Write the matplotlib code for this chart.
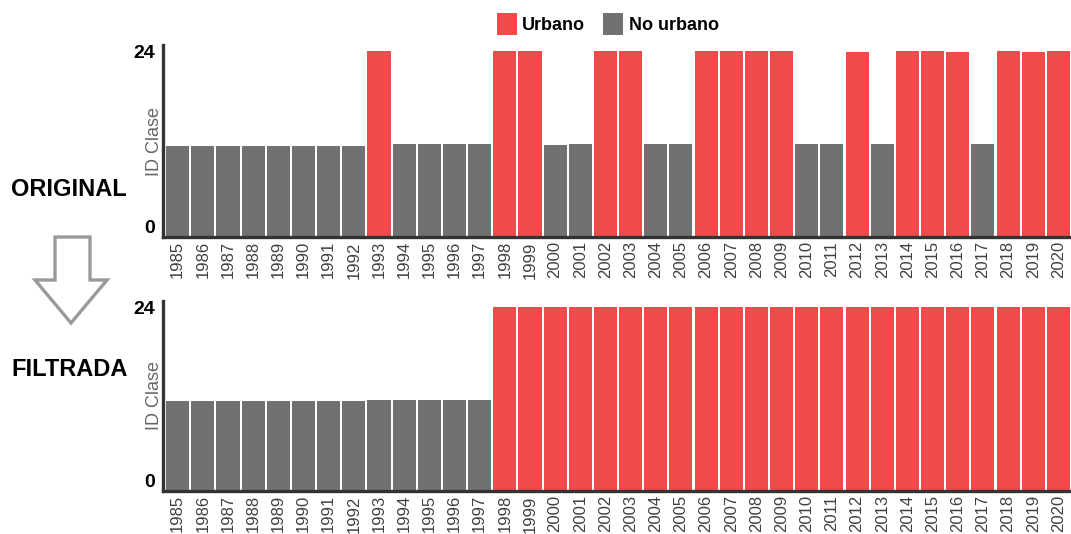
import matplotlib
matplotlib.use("Agg")
import matplotlib.pyplot as plt
from matplotlib.patches import Patch, Polygon

# ---------------- data ----------------
years = list(range(1985, 2021))
original_values = [11.7, 11.7, 11.7, 11.7, 11.7, 11.7, 11.7, 11.7,
                   24.0,
                   12.0, 12.0, 12.0, 12.0,
                   24.0, 24.0,
                   11.9, 12.0,
                   24.0, 24.0,
                   12.0, 12.0,
                   24.0, 24.0, 24.0, 24.0,
                   12.0, 12.0,
                   23.9,
                   12.0,
                   24.0, 24.0, 23.9,
                   12.0,
                   24.0, 23.9, 24.0]
original_classes = ["N"] * 8 + ["U"] + ["N"] * 4 + ["U"] * 2 + ["N"] * 2 + ["U"] * 2 + \
                   ["N"] * 2 + ["U"] * 4 + ["N"] * 2 + ["U"] + ["N"] + ["U"] * 3 + ["N"] + ["U"] * 3
filtered_values = [11.8] * 8 + [11.9] * 5 + [24.0] * 23
filtered_classes = ["N"] * 13 + ["U"] * 23
ytick_values = [0, 24]
panel_titles = ["ORIGINAL", "FILTRADA"]
legend_labels = ["Urbano", "No urbano"]
ylabel = "ID Clase"

# ---------------- style ----------------
RED = "#F24A4B"
GRAY = "#727071"
SPINE = "#333333"
colors = {"U": RED, "N": GRAY}
SANS = ["Liberation Sans", "DejaVu Sans"]

W, H = 1071, 534
fig = plt.figure(figsize=(W / 100, H / 100), dpi=100)


def fx(px):
    return px / W


def fy(py):
    return 1 - py / H


def make_panel(top_px, bottom_px, values, classes, ymax):
    ax = fig.add_axes([fx(163), fy(bottom_px), fx(1071) - fx(163), fy(top_px) - fy(bottom_px)])
    x = list(range(len(years)))
    ax.bar(x, values, width=0.92, color=[colors[c] for c in classes],
           edgecolor="none", zorder=2)
    ax.set_xlim(-0.58, len(years) - 0.5)
    ax.set_ylim(0, ymax)
    ax.set_xticks(x)
    ax.set_xticklabels([str(y) for y in years], rotation=90, fontsize=12,
                       color="#404040", family=SANS)
    ax.set_yticks(ytick_values)
    ax.set_yticklabels([str(v) for v in ytick_values], fontsize=14,
                       fontweight="bold", family=SANS, color="black")
    ax.get_yticklabels()[0].set_va("bottom")
    ax.tick_params(axis="both", length=0)
    ax.tick_params(axis="x", pad=3)
    ax.tick_params(axis="y", pad=6)
    for s in ["top", "right"]:
        ax.spines[s].set_visible(False)
    for s in ["left", "bottom"]:
        ax.spines[s].set_color(SPINE)
        ax.spines[s].set_linewidth(2.4)
    ax.text(0.0, 0.5, ylabel, transform=ax.transAxes, rotation=90,
            ha="right", va="center", fontsize=13, color="#666666", family=SANS)
    return ax


ax1 = make_panel(45, 237, original_values, original_classes, 24.8)
ax2 = make_panel(301, 491, filtered_values, filtered_classes, 24.85)

# panel titles
fig.text(fx(68.5), fy(190), panel_titles[0], ha="center", va="center",
         fontsize=17, fontweight="bold", family=SANS, color="black")
fig.text(fx(70), fy(370), panel_titles[1], ha="center", va="center",
         fontsize=17, fontweight="bold", family=SANS, color="black")

# outlined down arrow between titles
arrow_px = [(55, 237), (90, 237), (90, 280), (107, 280), (71, 323),
            (35, 280), (55, 280)]
arrow = Polygon([(fx(a), fy(b)) for a, b in arrow_px], closed=True,
                facecolor="white", edgecolor="#9a9a9a", linewidth=2.4,
                transform=fig.transFigure, joinstyle="miter")
fig.patches.append(arrow)

# legend
handles = [Patch(facecolor=RED, edgecolor="none"),
           Patch(facecolor=GRAY, edgecolor="none")]
leg = fig.legend(handles, legend_labels, loc="upper left",
                 bbox_to_anchor=(fx(497), fy(13)), ncol=2, frameon=False,
                 borderpad=0, borderaxespad=0, handlelength=1.1,
                 handleheight=1.5, handletextpad=0.3, columnspacing=1.0,
                 prop={"family": SANS, "weight": "bold", "size": 13})

fig.savefig("out.png", dpi=100)
